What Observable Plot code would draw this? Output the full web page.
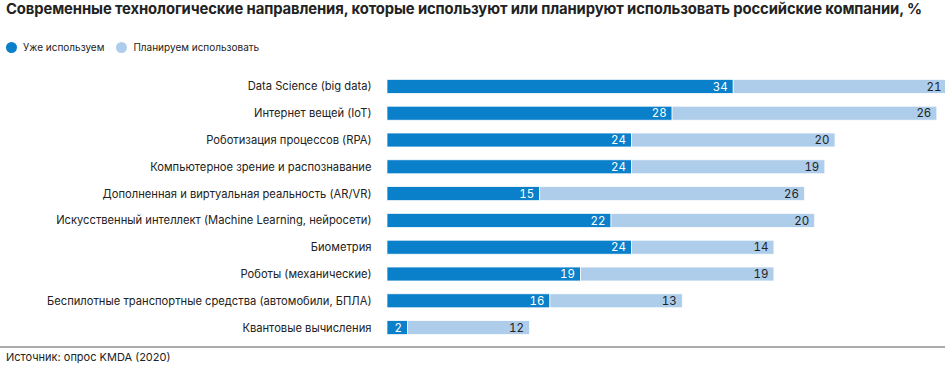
<!DOCTYPE html>
<html><head><meta charset="utf-8">
<script src="https://cdn.jsdelivr.net/npm/d3@7"></script>
<script src="https://cdn.jsdelivr.net/npm/@observablehq/plot@0.6"></script>
<style>
body{margin:0;background:#fff;font-family:Inter,"Noto Sans",sans-serif;color:#222;width:945px;height:373px;overflow:hidden;position:relative}
#title{position:absolute;left:6px;top:0px;font-size:14.8px;font-weight:700;white-space:nowrap;letter-spacing:-0.1px}
#legend{position:absolute;left:6px;top:41px;font-size:10px;display:flex;gap:12px;align-items:center}
#legend span{display:flex;align-items:center}
#legend i{display:inline-block;width:11px;height:11px;border-radius:50%;margin-right:6px}
#chart{position:absolute;left:0;top:62px}
#caption{position:absolute;left:6px;top:350px;font-size:11px}
</style></head>
<body>
<div id="title">Современные технологические направления, которые используют или планируют использовать российские компании, %</div>
<div id="legend"><span><i style="background:#0a7fca"></i>Уже используем</span><span><i style="background:#aecdea"></i>Планируем использовать</span></div>
<div id="chart"></div>
<div id="caption">Источник: опрос KMDA (2020)</div>
<script>
const categories = [
  "Data Science (big data)",
  "Интернет вещей (IoT)",
  "Роботизация процессов (RPA)",
  "Компьютерное зрение и распознавание",
  "Дополненная и виртуальная реальность (AR/VR)",
  "Искусственный интеллект (Machine Learning, нейросети)",
  "Биометрия",
  "Роботы (механические)",
  "Беспилотные транспортные средства (автомобили, БПЛА)",
  "Квантовые вычисления"
];
const used = [34, 28, 24, 24, 15, 22, 24, 19, 16, 2];
const planned = [21, 26, 20, 19, 26, 20, 14, 19, 13, 12];
const seriesNames = ["Уже используем", "Планируем использовать"];
const colors = ["#0a7fca", "#aecdea"];

const rows = [];
categories.forEach((c, i) => {
  rows.push({cat: c, series: seriesNames[0], x1: 0, x2: used[i], v: used[i]});
  rows.push({cat: c, series: seriesNames[1], x1: used[i], x2: used[i] + planned[i], v: planned[i]});
});

const chart = Plot.plot({
  width: 945,
  height: 286,
  marginTop: 11,
  marginBottom: 1.5,
  marginLeft: 0,
  marginRight: 0,
  style: {fontFamily: "Inter, 'Noto Sans', sans-serif", fontSize: "11px", color: "#222", background: "transparent", overflow: "visible"},
  x: {domain: [0, 55], range: [387, 947], axis: null},
  y: {domain: categories, range: [11, 279], paddingInner: 0.48, paddingOuter: 0.24, round: false, axis: null},
  color: {domain: seriesNames, range: colors},
  marks: [
    Plot.frame({anchor: "bottom", stroke: "#ababab", strokeWidth: 1.8}),
    Plot.barX(rows, {y: "cat", x1: "x1", x2: "x2", fill: "series", stroke: "#fff", strokeWidth: 0.7}),
    Plot.text(rows, {y: "cat", x: "x2", text: "v", textAnchor: "end", dx: -6,
      fill: d => d.series === seriesNames[0] ? "#fff" : "#222", fontSize: 11.5}),
    Plot.text(categories, {y: d => d, x: 0, text: d => d, textAnchor: "end", dx: -16, fontSize: 11.2, fill: "#222"})
  ]
});
document.getElementById("chart").appendChild(chart);
</script>
</body></html>
